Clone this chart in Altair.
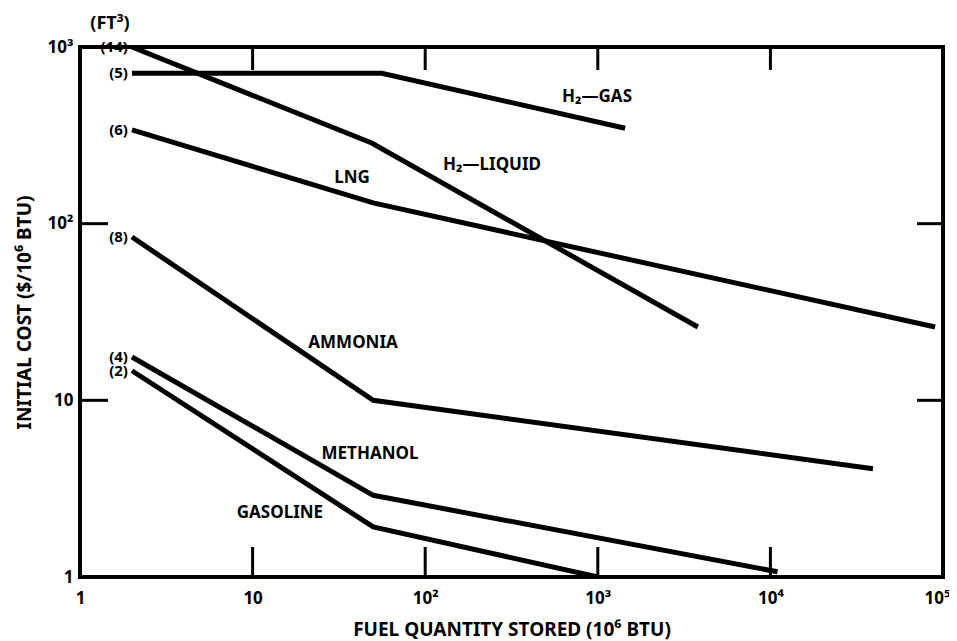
import altair as alt
import pandas as pd

# ---- data ----
series_keys = ["h2gas", "h2liq", "lng", "ammonia", "methanol", "gasoline"]

h2gas_x = [2, 56, 1440]
h2gas_y = [710, 710, 347]
h2liq_x = [2, 49, 3800]
h2liq_y = [1000, 286, 26]
lng_x = [2, 50, 90000]
lng_y = [340, 131, 26]
ammonia_x = [2, 50, 39300]
ammonia_y = [84, 10, 4.1]
methanol_x = [2, 50, 11000]
methanol_y = [17.6, 2.9, 1.07]
gasoline_x = [2, 50, 1000]
gasoline_y = [14.7, 1.92, 1.0]

volume_labels = ["(5)", "(14)", "(6)", "(8)", "(4)", "(2)"]
curve_names = ["H\u2082\u2014GAS", "H\u2082\u2014LIQUID", "LNG", "AMMONIA", "METHANOL", "GASOLINE"]
name_x = [990, 244, 37.7, 38.2, 47.9, 14.4]
name_y = [520, 215, 181, 21.1, 4.97, 2.30]

x_ticks = [1, 10, 100, 1000, 10000, 100000]
x_tick_labels = ["1", "10", "10\u00b2", "10\u00b3", "10\u2074", "10\u2075"]
y_ticks = [1, 10, 100, 1000]
y_tick_labels = ["1", "10", "10\u00b2", "10\u00b3"]
x_inner_ticks = [10, 100, 1000, 10000]
y_inner_ticks = [10, 100]

x_title = "FUEL QUANTITY STORED (10\u2076 BTU)"
y_title = "INITIAL COST ($/10\u2076 BTU)"
unit_label = "(FT\u00b3)"

# ---- build tables ----
xs = [h2gas_x, h2liq_x, lng_x, ammonia_x, methanol_x, gasoline_x]
ys = [h2gas_y, h2liq_y, lng_y, ammonia_y, methanol_y, gasoline_y]
rows = []
for k, xx, yy in zip(series_keys, xs, ys):
    for i, (a, b) in enumerate(zip(xx, yy)):
        rows.append({"series": k, "x": a, "y": b, "ord": i})
lines_df = pd.DataFrame(rows)

start_df = pd.DataFrame({"x": [x[0] for x in xs], "y": [y[0] for y in ys], "t": volume_labels})
names_df = pd.DataFrame({"x": name_x, "y": name_y, "t": curve_names})
xt_df = pd.DataFrame({"x": x_inner_ticks})
yt_df = pd.DataFrame({"y": y_inner_ticks})
unit_df = pd.DataFrame({"t": [unit_label]})


def label_expr(vals, labs):
    expr = "''"
    for v, l in reversed(list(zip(vals, labs))):
        expr = f"datum.value == {v} ? '{l}' : ({expr})"
    return expr


FONT = "Noto Sans, Liberation Sans"
W, H = 863, 530

xscale = alt.Scale(type="log", domain=[1, 100000], nice=False)
yscale = alt.Scale(type="log", domain=[1, 1000], nice=False)

xaxis = alt.Axis(values=x_ticks, labelExpr=label_expr(x_ticks, x_tick_labels), title=x_title,
                 grid=False, ticks=False, domain=False, labelPadding=13, titlePadding=14,
                 labelFont=FONT, labelFontSize=17, labelFontWeight="bold", labelColor="black",
                 titleFont=FONT, titleFontSize=19, titleFontWeight="bold", titleColor="black",
                 labelFlush=False, labelOverlap=False,
                 labelOffset={"condition": {"test": f"datum.value == {x_ticks[-1]}", "value": -6}, "value": 0})
yaxis = alt.Axis(values=y_ticks, labelExpr=label_expr(y_ticks, y_tick_labels), title=y_title,
                 grid=False, ticks=False, domain=False, labelPadding=7, titlePadding=13,
                 labelFont=FONT, labelFontSize=17, labelFontWeight="bold", labelColor="black",
                 titleFont=FONT, titleFontSize=19, titleFontWeight="bold", titleColor="black",
                 labelFlush=False, labelOverlap=False, labelBaseline="middle")

X = alt.X("x:Q", scale=xscale, axis=xaxis)
Y = alt.Y("y:Q", scale=yscale, axis=yaxis)

lines = alt.Chart(lines_df).mark_line(color="black", strokeWidth=5, strokeCap="butt", clip=True).encode(
    x=X, y=Y, detail="series:N", order="ord:Q",
)

starts = alt.Chart(start_df).mark_text(font=FONT, fontSize=15, fontWeight="bold", color="black",
                                       align="right", baseline="middle", dx=-4).encode(
    x=X, y=Y, text="t:N",
)

names = alt.Chart(names_df).mark_text(font=FONT, fontSize=17, fontWeight="bold", color="black",
                                      align="center", baseline="middle").encode(
    x=X, y=Y, text="t:N",
)

bottom_ticks = alt.Chart(xt_df).mark_rule(color="black", strokeWidth=3).encode(
    x=X, y=alt.value(H), y2=alt.value(H - 30))
top_ticks = alt.Chart(xt_df).mark_rule(color="black", strokeWidth=3).encode(
    x=X, y=alt.value(0), y2=alt.value(23))
left_ticks = alt.Chart(yt_df).mark_rule(color="black", strokeWidth=3).encode(
    y=Y, x=alt.value(0), x2=alt.value(28))
right_ticks = alt.Chart(yt_df).mark_rule(color="black", strokeWidth=3).encode(
    y=Y, x=alt.value(W), x2=alt.value(W - 26))

unit = alt.Chart(unit_df).mark_text(font=FONT, fontSize=18, fontWeight="bold", color="black",
                                    align="center", baseline="middle").encode(
    x=alt.value(30), y=alt.value(-23), text="t:N")

chart = alt.layer(lines, bottom_ticks, top_ticks, left_ticks, right_ticks, starts, names, unit).properties(
    width=W, height=H,
    autosize=alt.AutoSizeParams(type="none"),
    padding={"left": 72, "top": 39, "right": 6, "bottom": 63},
    background="white",
).configure_view(stroke="black", strokeWidth=4)

chart.save("out.html", embed_options={"renderer": "svg", "actions": False})
